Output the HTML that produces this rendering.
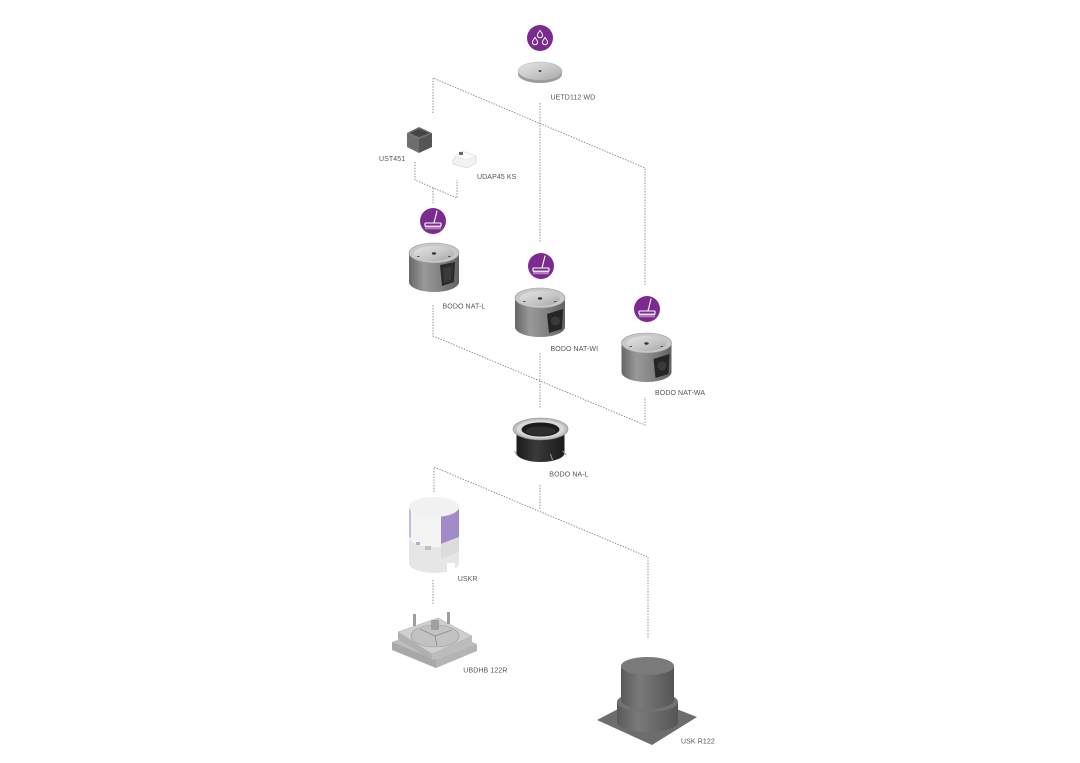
<!DOCTYPE html>
<html><head><meta charset="utf-8"><style>
html,body{margin:0;padding:0;background:#fff;}
svg{display:block;}
text{font-family:"Liberation Sans",sans-serif;font-size:7px;fill:#555;letter-spacing:0.1px;}
</style></head><body>
<svg width="1080" height="763" viewBox="0 0 1080 763" xmlns="http://www.w3.org/2000/svg">
<defs>
  <linearGradient id="body" x1="0" y1="0" x2="1" y2="0">
    <stop offset="0" stop-color="#666"/>
    <stop offset="0.3" stop-color="#999"/>
    <stop offset="0.55" stop-color="#888"/>
    <stop offset="1" stop-color="#626262"/>
  </linearGradient>
  <linearGradient id="top" x1="0" y1="0" x2="1" y2="1">
    <stop offset="0" stop-color="#e4e4e4"/>
    <stop offset="0.6" stop-color="#c4c4c4"/>
    <stop offset="1" stop-color="#a4a4a4"/>
  </linearGradient>
  <linearGradient id="disc" x1="0" y1="0" x2="1" y2="1">
    <stop offset="0" stop-color="#e6e6e6"/>
    <stop offset="0.5" stop-color="#cacaca"/>
    <stop offset="1" stop-color="#a8a8a8"/>
  </linearGradient>
  <linearGradient id="dark" x1="0" y1="0" x2="1" y2="0">
    <stop offset="0" stop-color="#5a5a5a"/>
    <stop offset="0.35" stop-color="#7a7a7a"/>
    <stop offset="1" stop-color="#555"/>
  </linearGradient>
  <linearGradient id="blk" x1="0" y1="0" x2="1" y2="0">
    <stop offset="0" stop-color="#1a1a1a"/>
    <stop offset="0.4" stop-color="#3a3a3a"/>
    <stop offset="1" stop-color="#1a1a1a"/>
  </linearGradient>
  <g id="cyl">
    <path d="M-25,0 L-25,29 A25,10 0 0 0 25,29 L25,0 Z" fill="url(#body)"/>
    <ellipse cx="0" cy="0" rx="25" ry="10" fill="#c8c8c8"/>
    <ellipse cx="0" cy="0" rx="25" ry="10" fill="none" stroke="#999" stroke-width="0.6"/>
    <ellipse cx="0" cy="0.5" rx="20" ry="7.5" fill="url(#top)"/>
    <ellipse cx="0" cy="0.5" rx="2.2" ry="1.2" fill="#333"/>
    <rect x="-17" y="3" width="2.5" height="1" fill="#555"/>
    <rect x="14" y="3" width="2.5" height="1" fill="#555"/>
  </g>
  <g id="broom" fill="none" stroke="#fff" stroke-width="1.1" stroke-linecap="round">
    <line x1="4" y1="-10" x2="1" y2="2"/>
    <rect x="-8" y="2" width="16" height="3.2" rx="0.5"/>
    <path d="M-7,5.5V8M-5,5.5V8M-3,5.5V8M-1,5.5V8M1,5.5V8M3,5.5V8M5,5.5V8M7,5.5V8" stroke-width="0.8"/>
  </g>
  <path id="drop" d="M0,-3.5 C1.5,-1.5 2.6,0 2.6,1.2 A2.6,2.6 0 0 1 -2.6,1.2 C-2.6,0 -1.5,-1.5 0,-3.5 Z" fill="none" stroke="#fff" stroke-width="1"/>
</defs>

<!-- connectors -->
<g fill="none" stroke="#808080" stroke-width="0.9" stroke-dasharray="1.4 1.4">
  <polyline points="433,113 433,78 645,168 645,286"/>
  <polyline points="540,103 540,243"/>
  <polyline points="415,162 415,180 457,198 457,180"/>
  <polyline points="433,188 433,204"/>
  <polyline points="433,305 433,336 645,425 645,397"/>
  <polyline points="540,353 540,409"/>
  <polyline points="540,485 540,510"/>
  <polyline points="434,492 434,467 648,557 648,639"/>
  <polyline points="433,580 433,604"/>
</g>

<!-- purple icons -->
<circle cx="540" cy="38" r="13" fill="#7b2b8f"/>
<use href="#drop" transform="translate(540,34)"/>
<use href="#drop" transform="translate(535,41)"/>
<use href="#drop" transform="translate(545,41)"/>

<circle cx="433" cy="221" r="13" fill="#7b2b8f"/>
<use href="#broom" transform="translate(433,221)"/>
<circle cx="541" cy="266" r="13" fill="#7b2b8f"/>
<use href="#broom" transform="translate(541,266)"/>
<circle cx="647" cy="309" r="13" fill="#7b2b8f"/>
<use href="#broom" transform="translate(647,309)"/>

<!-- UETD112 WD disc -->
<path d="M518,71 L518,74 A22,9 0 0 0 562,74 L562,71 Z" fill="#9a9a9a"/>
<ellipse cx="540" cy="71" rx="22" ry="9" fill="url(#disc)"/>
<ellipse cx="540" cy="71" rx="22" ry="9" fill="none" stroke="#b5b5b5" stroke-width="0.5"/>
<ellipse cx="540" cy="71" rx="1.5" ry="0.9" fill="#333"/>

<!-- UST451 box -->
<polygon points="407,133 419,127 432,133 419,139" fill="#6c6c6c"/>
<polygon points="410,133 419,129 429,133 419,137" fill="#444"/>
<polygon points="407,133 419,139 419,153 407,147" fill="#6e6e6e"/>
<polygon points="419,139 432,133 432,147 419,153" fill="#555"/>

<!-- UDAP45 KS -->
<polygon points="453,160 462,151 476,156 476,163 467,168 453,164" fill="#f2f2f2" stroke="#d0d0d0" stroke-width="0.6"/>
<polygon points="462,151 476,156 467,160 454,156" fill="#fbfbfb" stroke="#ddd" stroke-width="0.5"/>
<rect x="459" y="152" width="4" height="3" fill="#666"/>

<!-- BODO NAT cylinders -->
<g transform="translate(434,253)">
  <use href="#cyl"/>
  <polygon points="6,12 21,9 20,29 8,33" fill="#2a2a2a"/>
  <polygon points="9,15 18,13 17,27 10,30" fill="#3a3a3a"/>
</g>
<g transform="translate(540,298)">
  <use href="#cyl"/>
  <polygon points="7,16 23,11 22,31 9,35" fill="#252525"/>
  <circle cx="15.5" cy="23" r="4.5" fill="#3a3a3a"/>
</g>
<g transform="translate(646.5,343)">
  <use href="#cyl"/>
  <polygon points="7,16 23,11 22,31 9,35" fill="#252525"/>
  <circle cx="15.5" cy="23" r="4.5" fill="#3a3a3a"/>
</g>

<!-- BODO NA-L ring -->
<g transform="translate(540.5,429)">
  <path d="M-24,3 L-24,24 A24,9 0 0 0 24,24 L24,3 Z" fill="url(#blk)"/>
  <ellipse cx="0" cy="0" rx="27.5" ry="11" fill="#bdbdbd" stroke="#8a8a8a" stroke-width="0.6"/>
  <ellipse cx="0" cy="0" rx="24" ry="9" fill="#d8d8d8"/>
  <ellipse cx="0" cy="0.5" rx="19" ry="7" fill="#1c1c1c"/>
  <ellipse cx="0" cy="2" rx="15" ry="4.5" fill="#2e2e2e"/>
  <line x1="-26" y1="22" x2="-23" y2="27" stroke="#999" stroke-width="1"/>
  <line x1="22" y1="22" x2="26" y2="26" stroke="#999" stroke-width="1"/>
  <line x1="10" y1="25" x2="12" y2="31" stroke="#999" stroke-width="1"/>
</g>

<!-- USKR -->
<g transform="translate(434,507)">
  <path d="M-25,0 L-25,56 A25,10 0 0 0 25,56 L25,0 Z" fill="#f4f4f4"/>
  <path d="M-25,30 L-25,56 A25,10 0 0 0 25,56 L25,30 A25,10 0 0 1 -25,30 Z" fill="#e6e6e6"/>
  <path d="M-25,0 L-25,30 L-23,31 L-23,1 Z" fill="#c8b8e0"/>
  <path d="M7,9 L25,2 L25,30 L7,37 Z" fill="#a38bc8"/>
  <path d="M7,37 L25,30 L25,45 L7,52 Z" fill="#dcdcdc"/>
  <ellipse cx="0" cy="0" rx="25" ry="10" fill="#f1f1f1"/>
  <rect x="-18" y="35" width="4" height="3" fill="#b9a9d6"/>
  <rect x="-9" y="39" width="6" height="4" fill="#c0c0c0"/>
  <rect x="13" y="56" width="8" height="8" fill="#fff"/>
</g>

<!-- UBDHB 122R -->
<g>
  <polygon points="392,642 434,626 477,644 436,668" fill="#bdbdbd"/>
  <polygon points="392,642 436,660 436,668 392,650" fill="#a8a8a8"/>
  <polygon points="436,660 477,644 477,651 436,668" fill="#b4b4b4"/>
  <polygon points="398,632 438,618 472,636 432,654" fill="#cfcfcf" stroke="#aaa" stroke-width="0.5"/>
  <polygon points="398,632 432,654 432,660 398,639" fill="#b0b0b0"/>
  <polygon points="432,654 472,636 472,643 432,660" fill="#bcbcbc"/>
  <ellipse cx="435" cy="636" rx="24" ry="11" fill="#c2c2c2" stroke="#9a9a9a" stroke-width="0.6"/>
  <line x1="435" y1="636" x2="420" y2="629" stroke="#8a8a8a" stroke-width="0.8"/>
  <line x1="435" y1="636" x2="452" y2="630" stroke="#8a8a8a" stroke-width="0.8"/>
  <line x1="435" y1="636" x2="437" y2="646" stroke="#8a8a8a" stroke-width="0.8"/>
  <rect x="413" y="614" width="3" height="12" fill="#9d9d9d"/>
  <rect x="447" y="612" width="3" height="12" fill="#9d9d9d"/>
  <rect x="431" y="620" width="8" height="10" fill="#a0a0a0"/>
</g>

<!-- USK R122 -->
<g>
  <polygon points="597,720 643,696 697,717 652,745" fill="#6d6d6d"/>
  <path d="M617,702 L617,722 A30.5,10 0 0 0 678,722 L678,702 Z" fill="url(#dark)"/>
  <ellipse cx="647.5" cy="702" rx="30.5" ry="10" fill="#727272"/>
  <path d="M621,666 L621,700 A26.5,9 0 0 0 674,700 L674,666 Z" fill="url(#dark)"/>
  <ellipse cx="647.5" cy="666" rx="26.5" ry="9" fill="#7a7a7a"/>
</g>

<!-- labels -->
<text x="550.5" y="99.3">UETD112 WD</text>
<text x="379" y="161">UST451</text>
<text x="477" y="179">UDAP45 KS</text>
<text x="442.5" y="308.5">BODO NAT-L</text>
<text x="550.5" y="351">BODO NAT-WI</text>
<text x="655" y="395">BODO NAT-WA</text>
<text x="549.3" y="476.5">BODO NA-L</text>
<text x="457.7" y="581">USKR</text>
<text x="463.3" y="672.5">UBDHB 122R</text>
<text x="681" y="743.5">USK R122</text>
</svg>
</body></html>
